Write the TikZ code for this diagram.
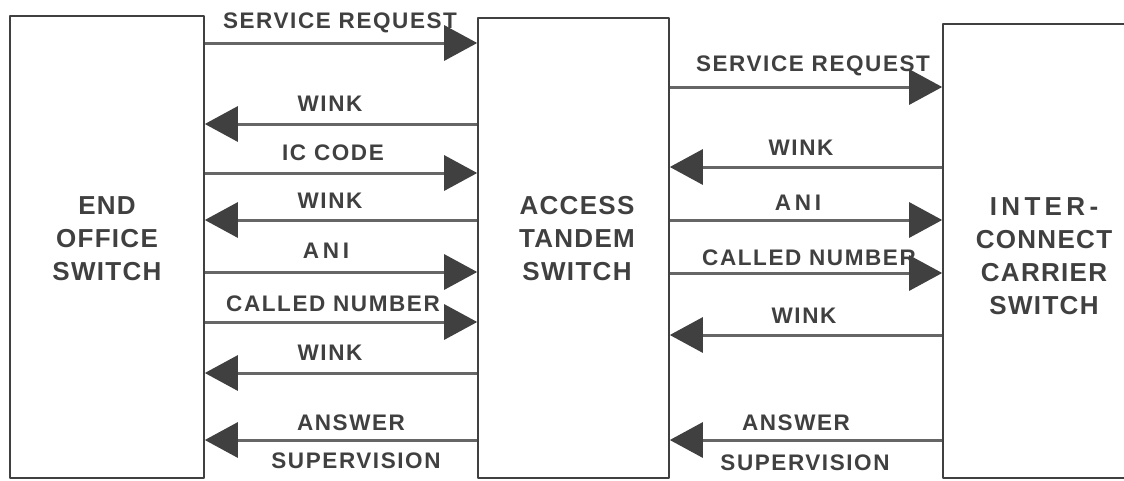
\documentclass[tikz,border=0pt]{standalone}
\usepackage{fontspec}
\newfontfamily\sigfont[LetterSpace=7]{Liberation Sans}
\newfontfamily\swfont[LetterSpace=5]{Liberation Sans}
\usetikzlibrary{arrows.meta}
\definecolor{uququq}{rgb}{0.25,0.25,0.25}
\definecolor{wvwvwv}{rgb}{0.4,0.4,0.4}

\begin{document}
\begin{tikzpicture}[line cap=round,line join=round,x=1pt,y=-1pt,
    swbox/.style={draw=uququq,line width=1.6pt,inner sep=0pt},
    swname/.style={font=\swfont\bfseries\fontsize{26}{33}\selectfont,align=center,text=uququq,inner sep=0pt},
    sig/.style={font=\sigfont\bfseries\fontsize{22.5}{22.5}\selectfont,text=uququq,inner sep=0pt,text height=16pt,text depth=0pt},
    msg/.style={line width=3pt,draw=wvwvwv,line cap=butt,-{Triangle[length=33pt,width=35pt,color=uququq]}}]
        \useasboundingbox (0,0) rectangle (1124,480);
        \clip (0,0) rectangle (1124,480);
        \node [swbox,minimum width=194pt,minimum height=462pt] (eo) at (107,247) {};
        \node [swbox,minimum width=191pt,minimum height=460pt] (at) at (573.5,248) {};
        \node [swbox,minimum width=192pt,minimum height=454pt] (ic) at (1039,251) {};
        \node [swname] (eoname) at (107,238.5) {END\\OFFICE\\SWITCH};
        \node [swname] (atname) at (577,238.5) {ACCESS\\TANDEM\\SWITCH};
        \node [swname] (icname) at (1044,256.5) {I\,N\,T\,E\,R\,-\\CONNECT\\CARRIER\\SWITCH};
        \draw [msg] (eo.east |- 0,43) -- (at.west |- 0,43);
        \draw [msg] (at.west |- 0,124) -- (eo.east |- 0,124);
        \draw [msg] (eo.east |- 0,173) -- (at.west |- 0,173);
        \draw [msg] (at.west |- 0,220) -- (eo.east |- 0,220);
        \draw [msg] (eo.east |- 0,272) -- (at.west |- 0,272);
        \draw [msg] (eo.east |- 0,322) -- (at.west |- 0,322);
        \draw [msg] (at.west |- 0,373) -- (eo.east |- 0,373);
        \draw [msg] (at.west |- 0,440) -- (eo.east |- 0,440);
        \draw [msg] (at.east |- 0,87) -- (ic.west |- 0,87);
        \draw [msg] (ic.west |- 0,167) -- (at.east |- 0,167);
        \draw [msg] (at.east |- 0,220) -- (ic.west |- 0,220);
        \draw [msg] (at.east |- 0,273) -- (ic.west |- 0,273);
        \draw [msg] (ic.west |- 0,335) -- (at.east |- 0,335);
        \draw [msg] (ic.west |- 0,440) -- (at.east |- 0,440);
        \node [sig] (srqA) at (340,20) {SERVICE REQUEST};
        \node [sig] (wnkA1) at (330,103) {WINK};
        \node [sig] (iccA) at (333,152) {IC CODE};
        \node [sig] (wnkA2) at (330,200) {WINK};
        \node [sig] (aniA) at (326,250) {A\,N\,I};
        \node [sig] (cnbA) at (333,303) {CALLED NUMBER};
        \node [sig] (wnkA3) at (330,352) {WINK};
        \node [sig] (ansA) at (351,422) {ANSWER};
        \node [sig] (supA) at (356,460) {SUPERVISION};
        \node [sig] (srqB) at (813,63) {SERVICE REQUEST};
        \node [sig] (wnkB1) at (801,147) {WINK};
        \node [sig] (aniB) at (798,202) {A\,N\,I};
        \node [sig] (cnbB) at (809,257) {CALLED NUMBER};
        \node [sig] (wnkB2) at (804,315) {WINK};
        \node [sig] (ansB) at (796,422) {ANSWER};
        \node [sig] (supB) at (805,462) {SUPERVISION};
    \end{tikzpicture}
\end{document}
